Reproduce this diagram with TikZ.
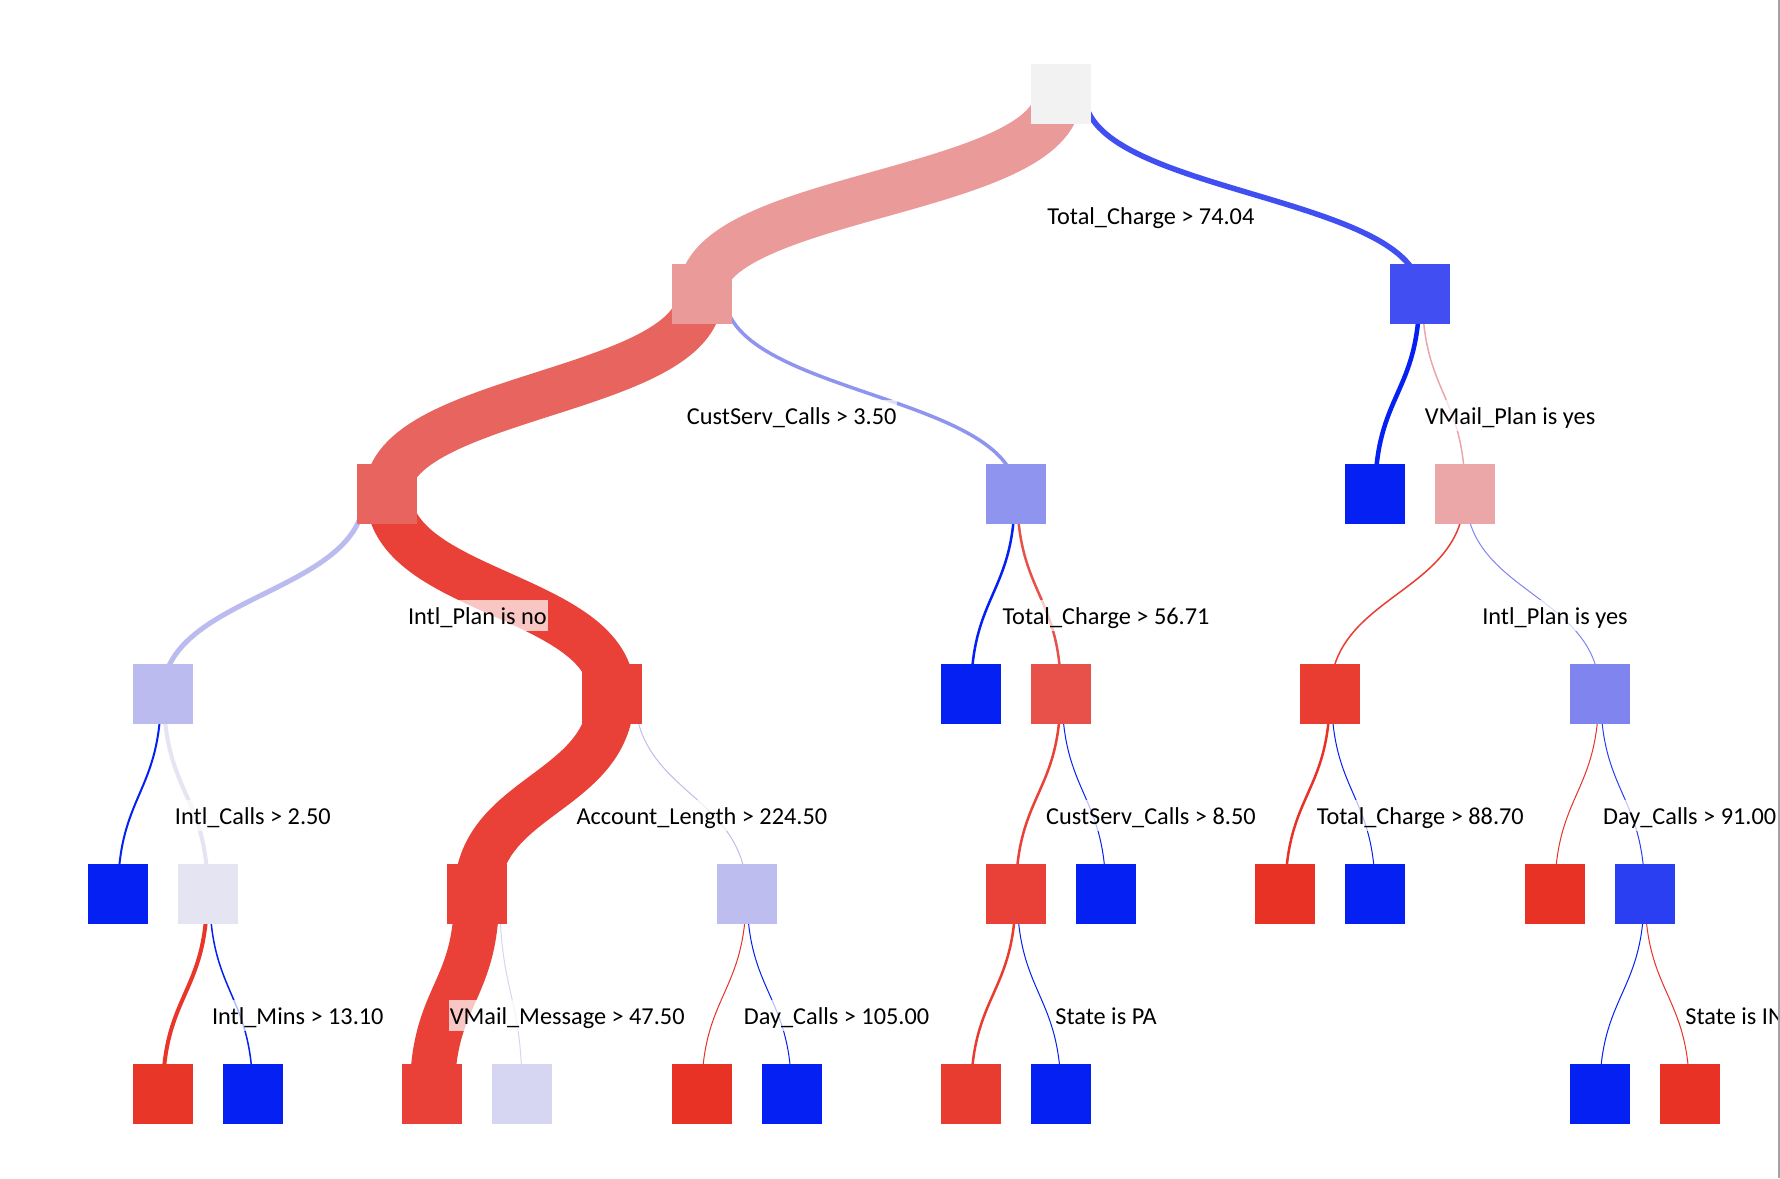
\documentclass[tikz,border=0pt]{standalone}
\usepackage{fontspec}
\setmainfont{Carlito}
\usetikzlibrary{calc}
\pgfdeclarelayer{back}
\pgfdeclarelayer{bg}
\pgfsetlayers{back,bg,main}
\definecolor{cRoot}{HTML}{F2F2F2}
\definecolor{cA}{HTML}{EA9A98}
\definecolor{cB}{HTML}{404EF2}
\definecolor{cC}{HTML}{E8655F}
\definecolor{cD}{HTML}{8F95EE}
\definecolor{cE}{HTML}{0420F2}
\definecolor{cF}{HTML}{EBA7A7}
\definecolor{cG}{HTML}{BBBBF0}
\definecolor{cH}{HTML}{E94037}
\definecolor{cI}{HTML}{0420F2}
\definecolor{cJ}{HTML}{E75149}
\definecolor{cK}{HTML}{E83D30}
\definecolor{cL}{HTML}{7F84EE}
\definecolor{cM}{HTML}{0420F2}
\definecolor{cN}{HTML}{E4E4F2}
\definecolor{cO}{HTML}{E94037}
\definecolor{cP}{HTML}{BDBDF0}
\definecolor{cQ}{HTML}{E94037}
\definecolor{cR}{HTML}{0420F2}
\definecolor{cS}{HTML}{E83225}
\definecolor{cT}{HTML}{0420F2}
\definecolor{cU}{HTML}{E83225}
\definecolor{cV}{HTML}{2A3EF2}
\definecolor{cW}{HTML}{E83629}
\definecolor{cX}{HTML}{0420F2}
\definecolor{cY}{HTML}{E94037}
\definecolor{cZ}{HTML}{D6D6F2}
\definecolor{cAA}{HTML}{E83225}
\definecolor{cAB}{HTML}{0420F2}
\definecolor{cAC}{HTML}{E93C30}
\definecolor{cAD}{HTML}{0420F2}
\definecolor{cAE}{HTML}{0420F2}
\definecolor{cAF}{HTML}{E83225}
\definecolor{edgegray}{HTML}{A3A3A3}
% parent, child, source offset, width, colour
\newcommand\treelink[5]{%
  \draw[line width=#4pt,draw=#5] ($(#1.center)+(#3,0)$) .. controls ($(#1.center)+(#3,100)$) and ($(#2.center)+(0,-100)$) .. (#2.center);}
\begin{document}
\begin{tikzpicture}[x=1pt,y=-1pt,
  box/.style={draw=none,fill=#1,minimum size=60pt,inner sep=0pt,outer sep=0pt},
  lbl/.style={fill=white,fill opacity=0.7,text opacity=1,inner xsep=1pt,inner ysep=2pt,
    text height=22pt,text depth=5pt,anchor=base,
    font=\fontsize{24.3}{29}\selectfont}]
\useasboundingbox (0,0) rectangle (1780,1178);
\begin{pgfonlayer}{back}
\fill[white] (0,0) rectangle (1780,1178);
\end{pgfonlayer}
% nodes: x = 118 + n*44.9
\node[box=cRoot] (root) at (118+21*44.9,94) {};
\node[box=cA] (A) at (118+13*44.9,294) {};
\node[box=cB] (B) at (118+29*44.9,294) {};
\node[box=cC] (C) at (118+6*44.9,494) {};
\node[box=cD] (D) at (118+20*44.9,494) {};
\node[box=cE] (E) at (118+28*44.9,494) {};
\node[box=cF] (F) at (118+30*44.9,494) {};
\node[box=cG] (G) at (118+1*44.9,694) {};
\node[box=cH] (H) at (118+11*44.9,694) {};
\node[box=cI] (I) at (118+19*44.9,694) {};
\node[box=cJ] (J) at (118+21*44.9,694) {};
\node[box=cK] (K) at (118+27*44.9,694) {};
\node[box=cL] (L) at (118+33*44.9,694) {};
\node[box=cM] (M) at (118+0*44.9,894) {};
\node[box=cN] (N) at (118+2*44.9,894) {};
\node[box=cO] (O) at (118+8*44.9,894) {};
\node[box=cP] (P) at (118+14*44.9,894) {};
\node[box=cQ] (Q) at (118+20*44.9,894) {};
\node[box=cR] (R) at (118+22*44.9,894) {};
\node[box=cS] (S) at (118+26*44.9,894) {};
\node[box=cT] (T) at (118+28*44.9,894) {};
\node[box=cU] (U) at (118+32*44.9,894) {};
\node[box=cV] (V) at (118+34*44.9,894) {};
\node[box=cW] (W) at (118+1*44.9,1094) {};
\node[box=cX] (X) at (118+3*44.9,1094) {};
\node[box=cY] (Y) at (118+7*44.9,1094) {};
\node[box=cZ] (Z) at (118+9*44.9,1094) {};
\node[box=cAA] (AA) at (118+13*44.9,1094) {};
\node[box=cAB] (AB) at (118+15*44.9,1094) {};
\node[box=cAC] (AC) at (118+19*44.9,1094) {};
\node[box=cAD] (AD) at (118+21*44.9,1094) {};
\node[box=cAE] (AE) at (118+33*44.9,1094) {};
\node[box=cAF] (AF) at (118+35*44.9,1094) {};
% links
\begin{pgfonlayer}{bg}
\treelink{root}{A}{-2.75}{47}{cA}
\treelink{root}{B}{23.5}{5.5}{cB}
\treelink{A}{C}{-1.75}{46}{cC}
\treelink{A}{D}{23}{3.5}{cD}
\treelink{B}{E}{-0.75}{4.5}{cE}
\treelink{B}{F}{2.25}{1.5}{cF}
\treelink{C}{G}{-23}{5}{cG}
\treelink{C}{H}{1.5}{46}{cH}
\treelink{D}{I}{-1.25}{2.5}{cI}
\treelink{D}{J}{1.25}{2.5}{cJ}
\treelink{F}{K}{-0.5}{1.5}{cK}
\treelink{F}{L}{0.75}{1}{cL}
\treelink{G}{M}{-2}{2}{cM}
\treelink{G}{N}{1}{4}{cN}
\treelink{H}{O}{-0.5}{46}{cO}
\treelink{H}{P}{23}{1}{cP}
\treelink{J}{Q}{-0.5}{2.5}{cQ}
\treelink{J}{R}{1.25}{1}{cR}
\treelink{K}{S}{-0.5}{2.5}{cS}
\treelink{K}{T}{1.25}{1}{cT}
\treelink{L}{U}{-1}{1}{cU}
\treelink{L}{V}{1}{1}{cV}
\treelink{N}{W}{-0.75}{4}{cW}
\treelink{N}{X}{2}{1.5}{cX}
\treelink{O}{Y}{-0.5}{45}{cY}
\treelink{O}{Z}{22.5}{1}{cZ}
\treelink{P}{AA}{-0.5}{1}{cAA}
\treelink{P}{AB}{0.5}{1}{cAB}
\treelink{Q}{AC}{-0.5}{2.5}{cAC}
\treelink{Q}{AD}{1.25}{1}{cAD}
\treelink{V}{AE}{-0.5}{1}{cAE}
\treelink{V}{AF}{0.5}{1}{cAF}
\end{pgfonlayer}
% split labels
\begin{scope}
\clip (0,0) rectangle (1778,1178);
\node[lbl] (lroot) at ($(root.center)+(90,130)$) {Total\_Charge > 74.04};
\node[lbl] (lA) at ($(A.center)+(90,130)$) {CustServ\_Calls > 3.50};
\node[lbl] (lB) at ($(B.center)+(90,130)$) {VMail\_Plan is yes};
\node[lbl] (lC) at ($(C.center)+(90,130)$) {Intl\_Plan is no};
\node[lbl] (lD) at ($(D.center)+(90,130)$) {Total\_Charge > 56.71};
\node[lbl] (lF) at ($(F.center)+(90,130)$) {Intl\_Plan is yes};
\node[lbl] (lG) at ($(G.center)+(90,130)$) {Intl\_Calls > 2.50};
\node[lbl] (lH) at ($(H.center)+(90,130)$) {Account\_Length > 224.50};
\node[lbl] (lJ) at ($(J.center)+(90,130)$) {CustServ\_Calls > 8.50};
\node[lbl] (lK) at ($(K.center)+(90,130)$) {Total\_Charge > 88.70};
\node[lbl] (lL) at ($(L.center)+(90,130)$) {Day\_Calls > 91.00};
\node[lbl] (lN) at ($(N.center)+(90,130)$) {Intl\_Mins > 13.10};
\node[lbl] (lO) at ($(O.center)+(90,130)$) {VMail\_Message > 47.50};
\node[lbl] (lP) at ($(P.center)+(90,130)$) {Day\_Calls > 105.00};
\node[lbl] (lQ) at ($(Q.center)+(90,130)$) {State is PA};
\node[lbl] (lV) at ($(V.center)+(90,130)$) {State is IN};
\end{scope}
% right border
\fill[edgegray] (1778,0) rectangle (1780,1178);
\end{tikzpicture}
\end{document}
